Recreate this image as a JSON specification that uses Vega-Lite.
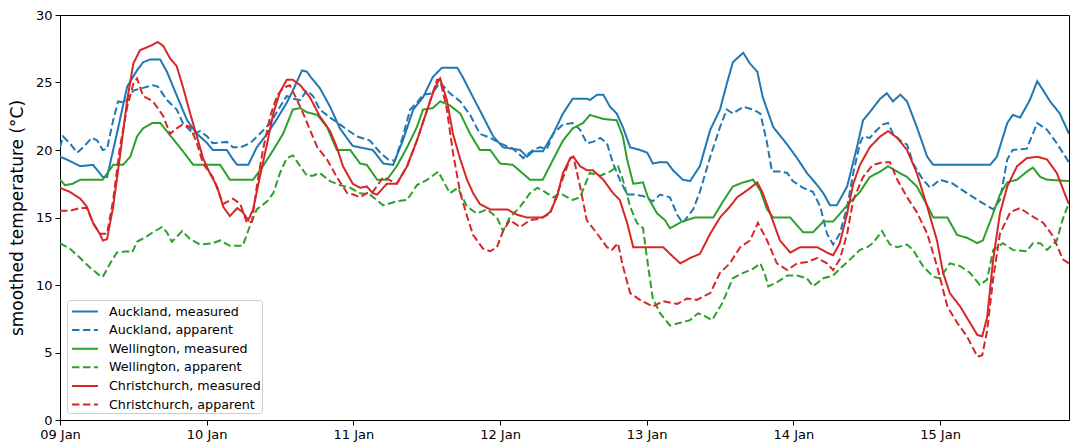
{
"$schema": "https://vega.github.io/schema/vega-lite/v6.json",
"width": 1009, "height": 405,
"autosize": {"type": "none"},
"padding": {"left": 60, "top": 15, "right": 1, "bottom": 23},
"background": "white",
"data": {"values": [
{"series":"Auckland, measured","h":0,"t":19.5},{"series":"Auckland, measured","h":1.1,"t":19.3},{"series":"Auckland, measured","h":3.3,"t":18.8},{"series":"Auckland, measured","h":5.4,"t":18.9},{"series":"Auckland, measured","h":7.0,"t":18.0},{"series":"Auckland, measured","h":7.7,"t":18.0},{"series":"Auckland, measured","h":9.3,"t":21.2},{"series":"Auckland, measured","h":11.0,"t":24.7},{"series":"Auckland, measured","h":12.6,"t":25.9},{"series":"Auckland, measured","h":13.6,"t":26.5},{"series":"Auckland, measured","h":14.7,"t":26.7},{"series":"Auckland, measured","h":16.4,"t":26.7},{"series":"Auckland, measured","h":17.5,"t":25.8},{"series":"Auckland, measured","h":18.5,"t":24.7},{"series":"Auckland, measured","h":19.6,"t":23.5},{"series":"Auckland, measured","h":20.8,"t":22.2},{"series":"Auckland, measured","h":22.4,"t":21.2},{"series":"Auckland, measured","h":24.1,"t":20.5},{"series":"Auckland, measured","h":25.0,"t":20.0},{"series":"Auckland, measured","h":27.3,"t":20.0},{"series":"Auckland, measured","h":28.3,"t":19.3},{"series":"Auckland, measured","h":29.0,"t":18.9},{"series":"Auckland, measured","h":30.8,"t":18.9},{"series":"Auckland, measured","h":32.2,"t":20.2},{"series":"Auckland, measured","h":33.9,"t":21.2},{"series":"Auckland, measured","h":35.5,"t":22.3},{"series":"Auckland, measured","h":37.1,"t":23.5},{"series":"Auckland, measured","h":38.1,"t":24.4},{"series":"Auckland, measured","h":39.6,"t":25.9},{"series":"Auckland, measured","h":40.4,"t":25.8},{"series":"Auckland, measured","h":41.2,"t":25.3},{"series":"Auckland, measured","h":42.5,"t":24.6},{"series":"Auckland, measured","h":44.2,"t":23.2},{"series":"Auckland, measured","h":45.8,"t":21.6},{"series":"Auckland, measured","h":47.9,"t":20.3},{"series":"Auckland, measured","h":51.2,"t":20.0},{"series":"Auckland, measured","h":52.9,"t":19.0},{"series":"Auckland, measured","h":54.5,"t":18.9},{"series":"Auckland, measured","h":56.1,"t":20.7},{"series":"Auckland, measured","h":57.8,"t":23.0},{"series":"Auckland, measured","h":59.4,"t":23.9},{"series":"Auckland, measured","h":61.0,"t":25.4},{"series":"Auckland, measured","h":62.5,"t":26.1},{"series":"Auckland, measured","h":65.0,"t":26.1},{"series":"Auckland, measured","h":65.9,"t":25.4},{"series":"Auckland, measured","h":67.6,"t":23.9},{"series":"Auckland, measured","h":69.2,"t":22.5},{"series":"Auckland, measured","h":70.9,"t":21.0},{"series":"Auckland, measured","h":72.5,"t":20.2},{"series":"Auckland, measured","h":75.3,"t":20.0},{"series":"Auckland, measured","h":76.4,"t":19.5},{"series":"Auckland, measured","h":77.4,"t":19.9},{"series":"Auckland, measured","h":79.0,"t":19.9},{"series":"Auckland, measured","h":80.7,"t":21.2},{"series":"Auckland, measured","h":82.3,"t":22.7},{"series":"Auckland, measured","h":83.9,"t":23.8},{"series":"Auckland, measured","h":86.2,"t":23.8},{"series":"Auckland, measured","h":86.7,"t":23.7},{"series":"Auckland, measured","h":87.9,"t":24.1},{"series":"Auckland, measured","h":88.9,"t":24.1},{"series":"Auckland, measured","h":90.0,"t":23.2},{"series":"Auckland, measured","h":91.1,"t":22.7},{"series":"Auckland, measured","h":92.1,"t":21.7},{"series":"Auckland, measured","h":93.3,"t":20.2},{"series":"Auckland, measured","h":94.9,"t":20.0},{"series":"Auckland, measured","h":96.1,"t":19.8},{"series":"Auckland, measured","h":97.0,"t":19.0},{"series":"Auckland, measured","h":98.2,"t":19.1},{"series":"Auckland, measured","h":99.3,"t":19.1},{"series":"Auckland, measured","h":100.3,"t":18.5},{"series":"Auckland, measured","h":101.9,"t":17.8},{"series":"Auckland, measured","h":103.1,"t":17.7},{"series":"Auckland, measured","h":104.7,"t":18.8},{"series":"Auckland, measured","h":106.4,"t":21.5},{"series":"Auckland, measured","h":108.0,"t":23.0},{"series":"Auckland, measured","h":109.1,"t":24.9},{"series":"Auckland, measured","h":110.1,"t":26.5},{"series":"Auckland, measured","h":111.3,"t":27.0},{"series":"Auckland, measured","h":111.8,"t":27.2},{"series":"Auckland, measured","h":112.9,"t":26.4},{"series":"Auckland, measured","h":114.1,"t":25.8},{"series":"Auckland, measured","h":115.0,"t":23.9},{"series":"Auckland, measured","h":116.7,"t":21.7},{"series":"Auckland, measured","h":119.0,"t":20.4},{"series":"Auckland, measured","h":120.6,"t":19.4},{"series":"Auckland, measured","h":122.2,"t":18.3},{"series":"Auckland, measured","h":123.9,"t":17.4},{"series":"Auckland, measured","h":124.9,"t":16.8},{"series":"Auckland, measured","h":126.0,"t":15.9},{"series":"Auckland, measured","h":127.1,"t":15.9},{"series":"Auckland, measured","h":128.8,"t":17.3},{"series":"Auckland, measured","h":130.4,"t":20.2},{"series":"Auckland, measured","h":131.4,"t":22.2},{"series":"Auckland, measured","h":132.5,"t":22.8},{"series":"Auckland, measured","h":134.2,"t":23.8},{"series":"Auckland, measured","h":135.3,"t":24.2},{"series":"Auckland, measured","h":136.3,"t":23.6},{"series":"Auckland, measured","h":137.5,"t":24.1},{"series":"Auckland, measured","h":138.6,"t":23.6},{"series":"Auckland, measured","h":140.2,"t":21.7},{"series":"Auckland, measured","h":141.9,"t":19.5},{"series":"Auckland, measured","h":142.9,"t":18.9},{"series":"Auckland, measured","h":152.2,"t":18.9},{"series":"Auckland, measured","h":153.3,"t":19.5},{"series":"Auckland, measured","h":155.0,"t":22.0},{"series":"Auckland, measured","h":155.9,"t":22.6},{"series":"Auckland, measured","h":157.1,"t":22.4},{"series":"Auckland, measured","h":158.7,"t":23.7},{"series":"Auckland, measured","h":159.9,"t":25.1},{"series":"Auckland, measured","h":160.9,"t":24.4},{"series":"Auckland, measured","h":162.0,"t":23.6},{"series":"Auckland, measured","h":163.6,"t":22.7},{"series":"Auckland, measured","h":164.8,"t":21.5},{"series":"Auckland, measured","h":165.1,"t":21.2},
{"series":"Auckland, apparent","h":0,"t":20.2},{"series":"Auckland, apparent","h":0.5,"t":21.0},{"series":"Auckland, apparent","h":1.6,"t":20.5},{"series":"Auckland, apparent","h":2.8,"t":19.8},{"series":"Auckland, apparent","h":3.8,"t":20.2},{"series":"Auckland, apparent","h":5.2,"t":20.9},{"series":"Auckland, apparent","h":6.1,"t":20.7},{"series":"Auckland, apparent","h":7.0,"t":20.0},{"series":"Auckland, apparent","h":7.7,"t":20.1},{"series":"Auckland, apparent","h":8.7,"t":22.2},{"series":"Auckland, apparent","h":9.5,"t":23.6},{"series":"Auckland, apparent","h":10.6,"t":23.5},{"series":"Auckland, apparent","h":12.0,"t":24.4},{"series":"Auckland, apparent","h":13.6,"t":24.6},{"series":"Auckland, apparent","h":15.2,"t":24.8},{"series":"Auckland, apparent","h":16.0,"t":24.7},{"series":"Auckland, apparent","h":17.5,"t":23.7},{"series":"Auckland, apparent","h":19.1,"t":23.0},{"series":"Auckland, apparent","h":20.1,"t":22.0},{"series":"Auckland, apparent","h":21.8,"t":21.2},{"series":"Auckland, apparent","h":22.9,"t":21.4},{"series":"Auckland, apparent","h":24.1,"t":21.0},{"series":"Auckland, apparent","h":25.0,"t":20.5},{"series":"Auckland, apparent","h":27.3,"t":20.6},{"series":"Auckland, apparent","h":28.3,"t":20.2},{"series":"Auckland, apparent","h":29.5,"t":20.2},{"series":"Auckland, apparent","h":31.1,"t":20.5},{"series":"Auckland, apparent","h":32.7,"t":21.2},{"series":"Auckland, apparent","h":34.4,"t":22.0},{"series":"Auckland, apparent","h":36.0,"t":23.2},{"series":"Auckland, apparent","h":37.1,"t":24.0},{"series":"Auckland, apparent","h":38.1,"t":23.8},{"series":"Auckland, apparent","h":39.3,"t":23.7},{"series":"Auckland, apparent","h":40.4,"t":24.4},{"series":"Auckland, apparent","h":41.4,"t":24.0},{"series":"Auckland, apparent","h":42.5,"t":23.0},{"series":"Auckland, apparent","h":44.2,"t":22.4},{"series":"Auckland, apparent","h":45.8,"t":21.9},{"series":"Auckland, apparent","h":47.0,"t":21.5},{"series":"Auckland, apparent","h":48.6,"t":21.0},{"series":"Auckland, apparent","h":50.7,"t":20.7},{"series":"Auckland, apparent","h":52.4,"t":19.8},{"series":"Auckland, apparent","h":53.7,"t":19.3},{"series":"Auckland, apparent","h":54.8,"t":19.2},{"series":"Auckland, apparent","h":56.1,"t":21.0},{"series":"Auckland, apparent","h":57.3,"t":23.0},{"series":"Auckland, apparent","h":58.4,"t":23.5},{"series":"Auckland, apparent","h":59.4,"t":24.1},{"series":"Auckland, apparent","h":60.9,"t":24.2},{"series":"Auckland, apparent","h":62.2,"t":25.0},{"series":"Auckland, apparent","h":63.8,"t":24.2},{"series":"Auckland, apparent","h":65.5,"t":23.6},{"series":"Auckland, apparent","h":67.1,"t":22.6},{"series":"Auckland, apparent","h":68.7,"t":21.2},{"series":"Auckland, apparent","h":70.4,"t":20.9},{"series":"Auckland, apparent","h":72.0,"t":20.5},{"series":"Auckland, apparent","h":74.1,"t":20.1},{"series":"Auckland, apparent","h":75.8,"t":19.4},{"series":"Auckland, apparent","h":77.4,"t":20.0},{"series":"Auckland, apparent","h":78.5,"t":20.2},{"series":"Auckland, apparent","h":79.7,"t":20.1},{"series":"Auckland, apparent","h":80.7,"t":21.2},{"series":"Auckland, apparent","h":82.3,"t":21.9},{"series":"Auckland, apparent","h":83.9,"t":22.0},{"series":"Auckland, apparent","h":85.1,"t":21.5},{"series":"Auckland, apparent","h":86.2,"t":20.5},{"series":"Auckland, apparent","h":87.2,"t":20.6},{"series":"Auckland, apparent","h":88.4,"t":20.9},{"series":"Auckland, apparent","h":89.5,"t":20.5},{"series":"Auckland, apparent","h":90.5,"t":19.0},{"series":"Auckland, apparent","h":91.6,"t":17.8},{"series":"Auckland, apparent","h":92.8,"t":16.7},{"series":"Auckland, apparent","h":93.8,"t":16.7},{"series":"Auckland, apparent","h":95.4,"t":16.6},{"series":"Auckland, apparent","h":97.0,"t":16.2},{"series":"Auckland, apparent","h":98.2,"t":16.7},{"series":"Auckland, apparent","h":99.8,"t":16.5},{"series":"Auckland, apparent","h":101.0,"t":15.2},{"series":"Auckland, apparent","h":101.9,"t":14.6},{"series":"Auckland, apparent","h":103.6,"t":15.6},{"series":"Auckland, apparent","h":104.7,"t":16.9},{"series":"Auckland, apparent","h":106.4,"t":19.5},{"series":"Auckland, apparent","h":108.0,"t":21.7},{"series":"Auckland, apparent","h":109.1,"t":23.0},{"series":"Auckland, apparent","h":110.1,"t":22.7},{"series":"Auckland, apparent","h":111.8,"t":23.2},{"series":"Auckland, apparent","h":113.4,"t":23.0},{"series":"Auckland, apparent","h":114.6,"t":22.7},{"series":"Auckland, apparent","h":115.7,"t":20.5},{"series":"Auckland, apparent","h":116.5,"t":18.4},{"series":"Auckland, apparent","h":117.8,"t":18.4},{"series":"Auckland, apparent","h":119.0,"t":18.3},{"series":"Auckland, apparent","h":119.9,"t":17.7},{"series":"Auckland, apparent","h":121.6,"t":17.2},{"series":"Auckland, apparent","h":123.2,"t":16.9},{"series":"Auckland, apparent","h":124.4,"t":15.8},{"series":"Auckland, apparent","h":125.5,"t":13.8},{"series":"Auckland, apparent","h":126.5,"t":13.0},{"series":"Auckland, apparent","h":127.6,"t":13.8},{"series":"Auckland, apparent","h":128.8,"t":15.8},{"series":"Auckland, apparent","h":129.8,"t":18.3},{"series":"Auckland, apparent","h":130.9,"t":20.5},{"series":"Auckland, apparent","h":131.4,"t":21.0},{"series":"Auckland, apparent","h":132.5,"t":20.9},{"series":"Auckland, apparent","h":133.7,"t":21.5},{"series":"Auckland, apparent","h":134.7,"t":21.9},{"series":"Auckland, apparent","h":135.5,"t":22.0},{"series":"Auckland, apparent","h":136.3,"t":21.2},{"series":"Auckland, apparent","h":137.5,"t":20.7},{"series":"Auckland, apparent","h":138.6,"t":20.4},{"series":"Auckland, apparent","h":139.6,"t":19.0},{"series":"Auckland, apparent","h":141.2,"t":17.8},{"series":"Auckland, apparent","h":142.4,"t":17.2},{"series":"Auckland, apparent","h":144.0,"t":17.8},{"series":"Auckland, apparent","h":146.1,"t":17.5},{"series":"Auckland, apparent","h":148.4,"t":16.8},{"series":"Auckland, apparent","h":150.5,"t":16.2},{"series":"Auckland, apparent","h":152.7,"t":15.6},{"series":"Auckland, apparent","h":153.8,"t":16.3},{"series":"Auckland, apparent","h":155.0,"t":19.3},{"series":"Auckland, apparent","h":155.9,"t":20.0},{"series":"Auckland, apparent","h":158.2,"t":20.1},{"series":"Auckland, apparent","h":159.9,"t":22.0},{"series":"Auckland, apparent","h":161.5,"t":21.5},{"series":"Auckland, apparent","h":163.1,"t":20.5},{"series":"Auckland, apparent","h":164.8,"t":19.3},{"series":"Auckland, apparent","h":165.1,"t":19.0},
{"series":"Wellington, measured","h":0,"t":17.8},{"series":"Wellington, measured","h":0.8,"t":17.4},{"series":"Wellington, measured","h":2.1,"t":17.5},{"series":"Wellington, measured","h":3.3,"t":17.8},{"series":"Wellington, measured","h":7.0,"t":17.8},{"series":"Wellington, measured","h":8.7,"t":18.9},{"series":"Wellington, measured","h":10.3,"t":18.9},{"series":"Wellington, measured","h":11.5,"t":19.5},{"series":"Wellington, measured","h":12.6,"t":21.0},{"series":"Wellington, measured","h":13.6,"t":21.6},{"series":"Wellington, measured","h":15.1,"t":22.0},{"series":"Wellington, measured","h":16.4,"t":22.0},{"series":"Wellington, measured","h":18.0,"t":21.1},{"series":"Wellington, measured","h":19.6,"t":20.2},{"series":"Wellington, measured","h":20.8,"t":19.5},{"series":"Wellington, measured","h":21.8,"t":18.9},{"series":"Wellington, measured","h":26.2,"t":18.9},{"series":"Wellington, measured","h":27.8,"t":17.8},{"series":"Wellington, measured","h":31.6,"t":17.8},{"series":"Wellington, measured","h":33.2,"t":18.8},{"series":"Wellington, measured","h":34.9,"t":20.0},{"series":"Wellington, measured","h":36.5,"t":21.2},{"series":"Wellington, measured","h":38.1,"t":23.0},{"series":"Wellington, measured","h":39.3,"t":23.1},{"series":"Wellington, measured","h":40.4,"t":22.8},{"series":"Wellington, measured","h":42.1,"t":22.6},{"series":"Wellington, measured","h":43.7,"t":21.7},{"series":"Wellington, measured","h":45.3,"t":20.0},{"series":"Wellington, measured","h":47.5,"t":20.0},{"series":"Wellington, measured","h":49.1,"t":19.0},{"series":"Wellington, measured","h":50.2,"t":18.9},{"series":"Wellington, measured","h":51.9,"t":17.8},{"series":"Wellington, measured","h":53.5,"t":17.8},{"series":"Wellington, measured","h":55.1,"t":18.8},{"series":"Wellington, measured","h":56.8,"t":20.2},{"series":"Wellington, measured","h":58.4,"t":21.7},{"series":"Wellington, measured","h":59.4,"t":23.0},{"series":"Wellington, measured","h":61.0,"t":23.1},{"series":"Wellington, measured","h":62.2,"t":23.6},{"series":"Wellington, measured","h":63.8,"t":23.3},{"series":"Wellington, measured","h":65.5,"t":22.7},{"series":"Wellington, measured","h":67.1,"t":21.2},{"series":"Wellington, measured","h":68.7,"t":20.0},{"series":"Wellington, measured","h":70.4,"t":20.0},{"series":"Wellington, measured","h":72.0,"t":19.0},{"series":"Wellington, measured","h":74.1,"t":18.9},{"series":"Wellington, measured","h":76.9,"t":17.8},{"series":"Wellington, measured","h":79.0,"t":17.8},{"series":"Wellington, measured","h":80.7,"t":19.3},{"series":"Wellington, measured","h":82.3,"t":20.7},{"series":"Wellington, measured","h":83.9,"t":21.6},{"series":"Wellington, measured","h":85.6,"t":22.0},{"series":"Wellington, measured","h":86.7,"t":22.6},{"series":"Wellington, measured","h":88.9,"t":22.3},{"series":"Wellington, measured","h":91.1,"t":22.2},{"series":"Wellington, measured","h":92.1,"t":21.0},{"series":"Wellington, measured","h":92.8,"t":19.3},{"series":"Wellington, measured","h":93.8,"t":17.5},{"series":"Wellington, measured","h":95.4,"t":17.6},{"series":"Wellington, measured","h":96.2,"t":16.5},{"series":"Wellington, measured","h":97.7,"t":15.3},{"series":"Wellington, measured","h":99.0,"t":14.8},{"series":"Wellington, measured","h":99.8,"t":14.2},{"series":"Wellington, measured","h":101.8,"t":14.7},{"series":"Wellington, measured","h":103.9,"t":15.0},{"series":"Wellington, measured","h":106.9,"t":15.0},{"series":"Wellington, measured","h":108.5,"t":16.2},{"series":"Wellington, measured","h":110.1,"t":17.3},{"series":"Wellington, measured","h":111.8,"t":17.6},{"series":"Wellington, measured","h":113.4,"t":17.8},{"series":"Wellington, measured","h":114.6,"t":17.0},{"series":"Wellington, measured","h":115.7,"t":15.6},{"series":"Wellington, measured","h":116.7,"t":15.0},{"series":"Wellington, measured","h":119.5,"t":15.0},{"series":"Wellington, measured","h":121.6,"t":13.9},{"series":"Wellington, measured","h":123.2,"t":13.9},{"series":"Wellington, measured","h":124.9,"t":14.7},{"series":"Wellington, measured","h":126.5,"t":14.7},{"series":"Wellington, measured","h":128.8,"t":15.9},{"series":"Wellington, measured","h":130.9,"t":16.9},{"series":"Wellington, measured","h":132.5,"t":18.0},{"series":"Wellington, measured","h":134.2,"t":18.4},{"series":"Wellington, measured","h":135.5,"t":18.8},{"series":"Wellington, measured","h":137.0,"t":18.4},{"series":"Wellington, measured","h":138.6,"t":18.0},{"series":"Wellington, measured","h":140.2,"t":17.3},{"series":"Wellington, measured","h":141.9,"t":15.9},{"series":"Wellington, measured","h":142.9,"t":15.0},{"series":"Wellington, measured","h":145.2,"t":15.0},{"series":"Wellington, measured","h":146.8,"t":13.7},{"series":"Wellington, measured","h":148.4,"t":13.5},{"series":"Wellington, measured","h":150.1,"t":13.1},{"series":"Wellington, measured","h":151.0,"t":13.3},{"series":"Wellington, measured","h":152.2,"t":14.7},{"series":"Wellington, measured","h":153.8,"t":16.7},{"series":"Wellington, measured","h":155.0,"t":17.6},{"series":"Wellington, measured","h":156.6,"t":17.8},{"series":"Wellington, measured","h":158.2,"t":18.4},{"series":"Wellington, measured","h":159.2,"t":18.7},{"series":"Wellington, measured","h":160.4,"t":18.0},{"series":"Wellington, measured","h":161.5,"t":17.8},{"series":"Wellington, measured","h":165.1,"t":17.7},
{"series":"Wellington, apparent","h":0,"t":13.1},{"series":"Wellington, apparent","h":1.6,"t":12.7},{"series":"Wellington, apparent","h":3.3,"t":12.0},{"series":"Wellington, apparent","h":4.9,"t":11.3},{"series":"Wellington, apparent","h":6.5,"t":10.7},{"series":"Wellington, apparent","h":7.0,"t":10.6},{"series":"Wellington, apparent","h":8.2,"t":11.6},{"series":"Wellington, apparent","h":9.3,"t":12.4},{"series":"Wellington, apparent","h":11.0,"t":12.5},{"series":"Wellington, apparent","h":11.8,"t":12.4},{"series":"Wellington, apparent","h":12.6,"t":13.2},{"series":"Wellington, apparent","h":14.2,"t":13.6},{"series":"Wellington, apparent","h":15.2,"t":13.9},{"series":"Wellington, apparent","h":16.7,"t":14.3},{"series":"Wellington, apparent","h":17.5,"t":13.9},{"series":"Wellington, apparent","h":18.3,"t":13.2},{"series":"Wellington, apparent","h":20.0,"t":14.0},{"series":"Wellington, apparent","h":21.3,"t":13.4},{"series":"Wellington, apparent","h":22.9,"t":13.0},{"series":"Wellington, apparent","h":25.0,"t":13.1},{"series":"Wellington, apparent","h":26.2,"t":13.3},{"series":"Wellington, apparent","h":27.8,"t":12.9},{"series":"Wellington, apparent","h":29.9,"t":12.9},{"series":"Wellington, apparent","h":31.1,"t":14.4},{"series":"Wellington, apparent","h":32.2,"t":15.6},{"series":"Wellington, apparent","h":33.9,"t":16.2},{"series":"Wellington, apparent","h":34.9,"t":16.8},{"series":"Wellington, apparent","h":36.0,"t":18.3},{"series":"Wellington, apparent","h":37.1,"t":19.4},{"series":"Wellington, apparent","h":38.1,"t":19.6},{"series":"Wellington, apparent","h":39.3,"t":18.8},{"series":"Wellington, apparent","h":40.4,"t":18.1},{"series":"Wellington, apparent","h":41.4,"t":18.1},{"series":"Wellington, apparent","h":42.5,"t":18.3},{"series":"Wellington, apparent","h":44.2,"t":17.7},{"series":"Wellington, apparent","h":45.8,"t":17.4},{"series":"Wellington, apparent","h":47.5,"t":17.2},{"series":"Wellington, apparent","h":49.1,"t":16.8},{"series":"Wellington, apparent","h":50.7,"t":16.7},{"series":"Wellington, apparent","h":52.9,"t":15.9},{"series":"Wellington, apparent","h":55.1,"t":16.2},{"series":"Wellington, apparent","h":56.8,"t":16.3},{"series":"Wellington, apparent","h":58.4,"t":17.4},{"series":"Wellington, apparent","h":60.1,"t":17.8},{"series":"Wellington, apparent","h":61.9,"t":18.4},{"series":"Wellington, apparent","h":63.8,"t":16.8},{"series":"Wellington, apparent","h":65.1,"t":17.2},{"series":"Wellington, apparent","h":66.6,"t":15.8},{"series":"Wellington, apparent","h":68.2,"t":15.3},{"series":"Wellington, apparent","h":69.9,"t":15.6},{"series":"Wellington, apparent","h":71.5,"t":15.0},{"series":"Wellington, apparent","h":72.5,"t":14.0},{"series":"Wellington, apparent","h":73.6,"t":15.0},{"series":"Wellington, apparent","h":75.3,"t":15.8},{"series":"Wellington, apparent","h":76.9,"t":16.8},{"series":"Wellington, apparent","h":78.1,"t":17.2},{"series":"Wellington, apparent","h":79.0,"t":17.0},{"series":"Wellington, apparent","h":80.7,"t":16.5},{"series":"Wellington, apparent","h":81.8,"t":16.8},{"series":"Wellington, apparent","h":83.9,"t":16.3},{"series":"Wellington, apparent","h":85.1,"t":16.5},{"series":"Wellington, apparent","h":86.7,"t":18.3},{"series":"Wellington, apparent","h":88.4,"t":18.1},{"series":"Wellington, apparent","h":90.0,"t":18.4},{"series":"Wellington, apparent","h":91.3,"t":18.8},{"series":"Wellington, apparent","h":92.1,"t":17.8},{"series":"Wellington, apparent","h":93.3,"t":15.8},{"series":"Wellington, apparent","h":94.4,"t":14.6},{"series":"Wellington, apparent","h":95.4,"t":14.2},{"series":"Wellington, apparent","h":96.2,"t":11.5},{"series":"Wellington, apparent","h":97.0,"t":9.0},{"series":"Wellington, apparent","h":98.2,"t":7.9},{"series":"Wellington, apparent","h":99.8,"t":7.0},{"series":"Wellington, apparent","h":101.5,"t":7.2},{"series":"Wellington, apparent","h":103.1,"t":7.4},{"series":"Wellington, apparent","h":104.4,"t":7.9},{"series":"Wellington, apparent","h":105.5,"t":7.7},{"series":"Wellington, apparent","h":106.7,"t":7.4},{"series":"Wellington, apparent","h":108.3,"t":8.6},{"series":"Wellington, apparent","h":110.1,"t":10.5},{"series":"Wellington, apparent","h":111.8,"t":10.9},{"series":"Wellington, apparent","h":113.4,"t":11.2},{"series":"Wellington, apparent","h":114.6,"t":11.6},{"series":"Wellington, apparent","h":115.4,"t":10.7},{"series":"Wellington, apparent","h":115.9,"t":9.9},{"series":"Wellington, apparent","h":117.3,"t":10.2},{"series":"Wellington, apparent","h":119.0,"t":10.7},{"series":"Wellington, apparent","h":120.6,"t":10.7},{"series":"Wellington, apparent","h":122.2,"t":10.5},{"series":"Wellington, apparent","h":123.2,"t":9.9},{"series":"Wellington, apparent","h":124.9,"t":10.5},{"series":"Wellington, apparent","h":126.5,"t":10.7},{"series":"Wellington, apparent","h":127.6,"t":11.2},{"series":"Wellington, apparent","h":129.3,"t":11.9},{"series":"Wellington, apparent","h":130.9,"t":12.6},{"series":"Wellington, apparent","h":132.1,"t":12.8},{"series":"Wellington, apparent","h":133.0,"t":13.1},{"series":"Wellington, apparent","h":134.5,"t":14.0},{"series":"Wellington, apparent","h":135.8,"t":13.0},{"series":"Wellington, apparent","h":137.0,"t":12.8},{"series":"Wellington, apparent","h":138.6,"t":13.0},{"series":"Wellington, apparent","h":139.6,"t":12.6},{"series":"Wellington, apparent","h":141.2,"t":11.4},{"series":"Wellington, apparent","h":142.9,"t":10.6},{"series":"Wellington, apparent","h":144.0,"t":10.5},{"series":"Wellington, apparent","h":145.6,"t":11.6},{"series":"Wellington, apparent","h":147.3,"t":11.4},{"series":"Wellington, apparent","h":148.9,"t":10.9},{"series":"Wellington, apparent","h":150.5,"t":10.0},{"series":"Wellington, apparent","h":151.7,"t":10.4},{"series":"Wellington, apparent","h":152.7,"t":12.6},{"series":"Wellington, apparent","h":154.3,"t":13.1},{"series":"Wellington, apparent","h":155.9,"t":12.6},{"series":"Wellington, apparent","h":158.2,"t":12.5},{"series":"Wellington, apparent","h":159.2,"t":13.1},{"series":"Wellington, apparent","h":160.4,"t":13.1},{"series":"Wellington, apparent","h":161.5,"t":12.6},{"series":"Wellington, apparent","h":163.1,"t":13.3},{"series":"Wellington, apparent","h":164.1,"t":14.9},{"series":"Wellington, apparent","h":165.1,"t":16.1},
{"series":"Christchurch, measured","h":0,"t":17.2},{"series":"Christchurch, measured","h":1.6,"t":16.9},{"series":"Christchurch, measured","h":3.3,"t":16.4},{"series":"Christchurch, measured","h":4.4,"t":15.8},{"series":"Christchurch, measured","h":5.4,"t":14.6},{"series":"Christchurch, measured","h":6.5,"t":13.8},{"series":"Christchurch, measured","h":7.0,"t":13.3},{"series":"Christchurch, measured","h":7.7,"t":13.4},{"series":"Christchurch, measured","h":8.7,"t":15.8},{"series":"Christchurch, measured","h":9.8,"t":19.5},{"series":"Christchurch, measured","h":11.0,"t":23.7},{"series":"Christchurch, measured","h":12.0,"t":26.4},{"series":"Christchurch, measured","h":13.1,"t":27.4},{"series":"Christchurch, measured","h":14.2,"t":27.6},{"series":"Christchurch, measured","h":15.2,"t":27.8},{"series":"Christchurch, measured","h":16.0,"t":28.0},{"series":"Christchurch, measured","h":16.9,"t":27.7},{"series":"Christchurch, measured","h":18.0,"t":26.8},{"series":"Christchurch, measured","h":19.1,"t":26.2},{"series":"Christchurch, measured","h":20.1,"t":24.7},{"series":"Christchurch, measured","h":21.3,"t":22.7},{"series":"Christchurch, measured","h":22.4,"t":21.0},{"series":"Christchurch, measured","h":23.4,"t":19.4},{"series":"Christchurch, measured","h":24.5,"t":18.3},{"series":"Christchurch, measured","h":25.7,"t":17.3},{"series":"Christchurch, measured","h":26.7,"t":15.8},{"series":"Christchurch, measured","h":27.8,"t":15.1},{"series":"Christchurch, measured","h":29.0,"t":15.7},{"series":"Christchurch, measured","h":29.9,"t":15.4},{"series":"Christchurch, measured","h":30.8,"t":14.8},{"series":"Christchurch, measured","h":31.6,"t":15.6},{"series":"Christchurch, measured","h":32.7,"t":18.0},{"series":"Christchurch, measured","h":33.9,"t":20.5},{"series":"Christchurch, measured","h":34.9,"t":22.7},{"series":"Christchurch, measured","h":36.0,"t":24.3},{"series":"Christchurch, measured","h":37.1,"t":25.2},{"series":"Christchurch, measured","h":38.1,"t":25.2},{"series":"Christchurch, measured","h":39.3,"t":24.8},{"series":"Christchurch, measured","h":40.9,"t":23.9},{"series":"Christchurch, measured","h":42.5,"t":22.5},{"series":"Christchurch, measured","h":44.2,"t":21.4},{"series":"Christchurch, measured","h":45.3,"t":20.2},{"series":"Christchurch, measured","h":46.3,"t":18.8},{"series":"Christchurch, measured","h":47.9,"t":17.5},{"series":"Christchurch, measured","h":49.1,"t":17.2},{"series":"Christchurch, measured","h":50.2,"t":17.3},{"series":"Christchurch, measured","h":51.2,"t":16.8},{"series":"Christchurch, measured","h":51.9,"t":16.7},{"series":"Christchurch, measured","h":53.5,"t":17.5},{"series":"Christchurch, measured","h":55.1,"t":17.5},{"series":"Christchurch, measured","h":56.8,"t":18.8},{"series":"Christchurch, measured","h":58.4,"t":20.7},{"series":"Christchurch, measured","h":60.1,"t":23.0},{"series":"Christchurch, measured","h":61.4,"t":24.7},{"series":"Christchurch, measured","h":62.2,"t":25.3},{"series":"Christchurch, measured","h":63.3,"t":23.7},{"series":"Christchurch, measured","h":64.3,"t":21.2},{"series":"Christchurch, measured","h":65.5,"t":19.3},{"series":"Christchurch, measured","h":66.6,"t":17.8},{"series":"Christchurch, measured","h":67.6,"t":16.8},{"series":"Christchurch, measured","h":68.7,"t":16.0},{"series":"Christchurch, measured","h":70.4,"t":15.6},{"series":"Christchurch, measured","h":73.2,"t":15.6},{"series":"Christchurch, measured","h":74.8,"t":15.2},{"series":"Christchurch, measured","h":76.4,"t":15.0},{"series":"Christchurch, measured","h":79.0,"t":15.0},{"series":"Christchurch, measured","h":80.2,"t":15.4},{"series":"Christchurch, measured","h":81.3,"t":16.5},{"series":"Christchurch, measured","h":82.3,"t":18.3},{"series":"Christchurch, measured","h":83.5,"t":19.4},{"series":"Christchurch, measured","h":84.0,"t":19.5},{"series":"Christchurch, measured","h":85.1,"t":18.8},{"series":"Christchurch, measured","h":86.2,"t":18.5},{"series":"Christchurch, measured","h":87.2,"t":18.5},{"series":"Christchurch, measured","h":88.9,"t":17.8},{"series":"Christchurch, measured","h":90.5,"t":16.8},{"series":"Christchurch, measured","h":91.6,"t":16.3},{"series":"Christchurch, measured","h":92.8,"t":14.6},{"series":"Christchurch, measured","h":93.8,"t":12.8},{"series":"Christchurch, measured","h":96.1,"t":12.8},{"series":"Christchurch, measured","h":98.7,"t":12.8},{"series":"Christchurch, measured","h":100.3,"t":12.1},{"series":"Christchurch, measured","h":101.5,"t":11.6},{"series":"Christchurch, measured","h":103.1,"t":12.0},{"series":"Christchurch, measured","h":104.7,"t":12.3},{"series":"Christchurch, measured","h":106.4,"t":13.8},{"series":"Christchurch, measured","h":108.0,"t":15.0},{"series":"Christchurch, measured","h":109.6,"t":15.8},{"series":"Christchurch, measured","h":110.8,"t":16.5},{"series":"Christchurch, measured","h":112.4,"t":17.0},{"series":"Christchurch, measured","h":114.1,"t":17.6},{"series":"Christchurch, measured","h":115.0,"t":16.8},{"series":"Christchurch, measured","h":116.2,"t":15.3},{"series":"Christchurch, measured","h":117.8,"t":13.3},{"series":"Christchurch, measured","h":119.5,"t":12.4},{"series":"Christchurch, measured","h":121.1,"t":12.8},{"series":"Christchurch, measured","h":123.9,"t":12.8},{"series":"Christchurch, measured","h":125.5,"t":12.4},{"series":"Christchurch, measured","h":126.5,"t":12.2},{"series":"Christchurch, measured","h":127.6,"t":13.1},{"series":"Christchurch, measured","h":128.8,"t":15.3},{"series":"Christchurch, measured","h":129.8,"t":17.5},{"series":"Christchurch, measured","h":130.9,"t":18.9},{"series":"Christchurch, measured","h":132.5,"t":20.2},{"series":"Christchurch, measured","h":134.2,"t":21.0},{"series":"Christchurch, measured","h":135.5,"t":21.4},{"series":"Christchurch, measured","h":137.0,"t":20.9},{"series":"Christchurch, measured","h":138.6,"t":20.0},{"series":"Christchurch, measured","h":140.2,"t":18.3},{"series":"Christchurch, measured","h":141.9,"t":15.8},{"series":"Christchurch, measured","h":143.5,"t":13.3},{"series":"Christchurch, measured","h":144.5,"t":10.9},{"series":"Christchurch, measured","h":145.6,"t":9.4},{"series":"Christchurch, measured","h":147.3,"t":8.4},{"series":"Christchurch, measured","h":148.9,"t":7.2},{"series":"Christchurch, measured","h":150.1,"t":6.3},{"series":"Christchurch, measured","h":150.9,"t":6.2},{"series":"Christchurch, measured","h":151.7,"t":7.6},{"series":"Christchurch, measured","h":152.7,"t":11.9},{"series":"Christchurch, measured","h":153.8,"t":15.3},{"series":"Christchurch, measured","h":155.0,"t":17.3},{"series":"Christchurch, measured","h":156.6,"t":18.8},{"series":"Christchurch, measured","h":158.2,"t":19.4},{"series":"Christchurch, measured","h":159.9,"t":19.5},{"series":"Christchurch, measured","h":161.5,"t":19.3},{"series":"Christchurch, measured","h":163.1,"t":18.3},{"series":"Christchurch, measured","h":164.8,"t":16.3},{"series":"Christchurch, measured","h":165.1,"t":16.0},
{"series":"Christchurch, apparent","h":0,"t":15.5},{"series":"Christchurch, apparent","h":1.6,"t":15.5},{"series":"Christchurch, apparent","h":3.3,"t":15.7},{"series":"Christchurch, apparent","h":4.4,"t":15.7},{"series":"Christchurch, apparent","h":5.4,"t":14.6},{"series":"Christchurch, apparent","h":6.5,"t":13.8},{"series":"Christchurch, apparent","h":7.7,"t":13.8},{"series":"Christchurch, apparent","h":8.7,"t":16.3},{"series":"Christchurch, apparent","h":9.8,"t":20.2},{"series":"Christchurch, apparent","h":11.0,"t":23.2},{"series":"Christchurch, apparent","h":12.0,"t":24.9},{"series":"Christchurch, apparent","h":12.6,"t":25.3},{"series":"Christchurch, apparent","h":13.6,"t":24.0},{"series":"Christchurch, apparent","h":15.2,"t":23.6},{"series":"Christchurch, apparent","h":16.0,"t":23.1},{"series":"Christchurch, apparent","h":16.9,"t":22.5},{"series":"Christchurch, apparent","h":18.0,"t":21.2},{"series":"Christchurch, apparent","h":19.1,"t":21.6},{"series":"Christchurch, apparent","h":20.1,"t":21.9},{"series":"Christchurch, apparent","h":21.3,"t":21.7},{"series":"Christchurch, apparent","h":22.4,"t":20.5},{"series":"Christchurch, apparent","h":23.4,"t":19.0},{"series":"Christchurch, apparent","h":25.0,"t":18.0},{"series":"Christchurch, apparent","h":26.7,"t":16.0},{"series":"Christchurch, apparent","h":28.3,"t":16.4},{"series":"Christchurch, apparent","h":29.5,"t":16.0},{"series":"Christchurch, apparent","h":30.6,"t":14.6},{"series":"Christchurch, apparent","h":31.4,"t":14.7},{"series":"Christchurch, apparent","h":32.2,"t":17.3},{"series":"Christchurch, apparent","h":33.2,"t":20.0},{"series":"Christchurch, apparent","h":34.4,"t":22.5},{"series":"Christchurch, apparent","h":35.5,"t":24.0},{"series":"Christchurch, apparent","h":36.5,"t":24.6},{"series":"Christchurch, apparent","h":37.6,"t":24.8},{"series":"Christchurch, apparent","h":38.8,"t":23.7},{"series":"Christchurch, apparent","h":39.8,"t":22.7},{"series":"Christchurch, apparent","h":40.9,"t":21.5},{"series":"Christchurch, apparent","h":42.1,"t":20.2},{"series":"Christchurch, apparent","h":43.7,"t":19.3},{"series":"Christchurch, apparent","h":45.3,"t":18.0},{"series":"Christchurch, apparent","h":47.0,"t":16.8},{"series":"Christchurch, apparent","h":48.0,"t":16.7},{"series":"Christchurch, apparent","h":49.1,"t":16.5},{"series":"Christchurch, apparent","h":50.2,"t":16.8},{"series":"Christchurch, apparent","h":51.2,"t":16.9},{"series":"Christchurch, apparent","h":52.9,"t":18.0},{"series":"Christchurch, apparent","h":55.1,"t":17.5},{"series":"Christchurch, apparent","h":56.8,"t":18.8},{"series":"Christchurch, apparent","h":58.4,"t":20.7},{"series":"Christchurch, apparent","h":60.1,"t":23.0},{"series":"Christchurch, apparent","h":61.7,"t":25.2},{"series":"Christchurch, apparent","h":62.2,"t":25.2},{"series":"Christchurch, apparent","h":63.3,"t":23.0},{"series":"Christchurch, apparent","h":64.3,"t":19.8},{"series":"Christchurch, apparent","h":65.5,"t":16.8},{"series":"Christchurch, apparent","h":66.6,"t":15.1},{"series":"Christchurch, apparent","h":67.6,"t":13.7},{"series":"Christchurch, apparent","h":69.2,"t":12.7},{"series":"Christchurch, apparent","h":70.4,"t":12.5},{"series":"Christchurch, apparent","h":71.5,"t":12.8},{"series":"Christchurch, apparent","h":72.5,"t":14.0},{"series":"Christchurch, apparent","h":73.6,"t":14.8},{"series":"Christchurch, apparent","h":75.3,"t":14.3},{"series":"Christchurch, apparent","h":76.9,"t":14.8},{"series":"Christchurch, apparent","h":78.5,"t":14.9},{"series":"Christchurch, apparent","h":80.2,"t":15.3},{"series":"Christchurch, apparent","h":81.8,"t":17.3},{"series":"Christchurch, apparent","h":83.5,"t":19.4},{"series":"Christchurch, apparent","h":84.0,"t":19.5},{"series":"Christchurch, apparent","h":85.1,"t":17.3},{"series":"Christchurch, apparent","h":86.2,"t":14.8},{"series":"Christchurch, apparent","h":87.9,"t":13.8},{"series":"Christchurch, apparent","h":89.5,"t":12.8},{"series":"Christchurch, apparent","h":90.3,"t":12.6},{"series":"Christchurch, apparent","h":91.3,"t":13.1},{"series":"Christchurch, apparent","h":92.1,"t":11.4},{"series":"Christchurch, apparent","h":93.3,"t":9.4},{"series":"Christchurch, apparent","h":94.9,"t":8.9},{"series":"Christchurch, apparent","h":97.0,"t":8.4},{"series":"Christchurch, apparent","h":98.7,"t":8.8},{"series":"Christchurch, apparent","h":101.0,"t":8.6},{"series":"Christchurch, apparent","h":102.6,"t":9.0},{"series":"Christchurch, apparent","h":104.2,"t":8.9},{"series":"Christchurch, apparent","h":106.4,"t":9.4},{"series":"Christchurch, apparent","h":108.0,"t":10.9},{"series":"Christchurch, apparent","h":109.6,"t":11.6},{"series":"Christchurch, apparent","h":111.3,"t":12.8},{"series":"Christchurch, apparent","h":112.9,"t":13.3},{"series":"Christchurch, apparent","h":114.2,"t":14.6},{"series":"Christchurch, apparent","h":115.7,"t":13.3},{"series":"Christchurch, apparent","h":117.3,"t":11.6},{"series":"Christchurch, apparent","h":119.0,"t":11.1},{"series":"Christchurch, apparent","h":120.6,"t":11.6},{"series":"Christchurch, apparent","h":122.2,"t":11.7},{"series":"Christchurch, apparent","h":123.9,"t":12.0},{"series":"Christchurch, apparent","h":125.5,"t":11.6},{"series":"Christchurch, apparent","h":126.5,"t":11.1},{"series":"Christchurch, apparent","h":127.6,"t":11.9},{"series":"Christchurch, apparent","h":128.8,"t":13.8},{"series":"Christchurch, apparent","h":129.8,"t":16.3},{"series":"Christchurch, apparent","h":131.4,"t":18.0},{"series":"Christchurch, apparent","h":133.0,"t":18.9},{"series":"Christchurch, apparent","h":134.7,"t":19.1},{"series":"Christchurch, apparent","h":135.8,"t":19.1},{"series":"Christchurch, apparent","h":137.0,"t":17.8},{"series":"Christchurch, apparent","h":138.6,"t":16.5},{"series":"Christchurch, apparent","h":140.2,"t":15.4},{"series":"Christchurch, apparent","h":141.9,"t":13.8},{"series":"Christchurch, apparent","h":143.5,"t":11.4},{"series":"Christchurch, apparent","h":145.2,"t":8.4},{"series":"Christchurch, apparent","h":146.8,"t":7.2},{"series":"Christchurch, apparent","h":148.4,"t":6.2},{"series":"Christchurch, apparent","h":150.1,"t":4.7},{"series":"Christchurch, apparent","h":150.9,"t":4.8},{"series":"Christchurch, apparent","h":151.7,"t":6.6},{"series":"Christchurch, apparent","h":152.7,"t":10.5},{"series":"Christchurch, apparent","h":153.8,"t":13.8},{"series":"Christchurch, apparent","h":155.5,"t":15.4},{"series":"Christchurch, apparent","h":157.1,"t":15.7},{"series":"Christchurch, apparent","h":158.7,"t":15.2},{"series":"Christchurch, apparent","h":160.9,"t":14.6},{"series":"Christchurch, apparent","h":162.5,"t":13.6},{"series":"Christchurch, apparent","h":164.1,"t":11.9},{"series":"Christchurch, apparent","h":165.1,"t":11.6}
]},
"mark": {"type": "line", "strokeWidth": 2, "clip": true},
"encoding": {
 "x": {"field": "h", "type": "quantitative", "title": null,
   "scale": {"domain": [0, 165.1], "nice": false, "zero": false},
   "axis": {"values": [0, 24, 48, 72, 96, 120, 144], "labelFlush": false,
     "labelExpr": "timeFormat(datetime(2024, 0, 9 + datum.value / 24), '%d %b')"}},
 "y": {"field": "t", "type": "quantitative", "title": "smoothed temperature (°C)",
   "scale": {"domain": [0, 30], "nice": false},
   "axis": {"values": [0, 5, 10, 15, 20, 25, 30], "labelFlush": false, "titlePadding": 9}},
 "color": {"field": "series", "type": "nominal",
   "scale": {"domain": ["Auckland, measured", "Auckland, apparent", "Wellington, measured", "Wellington, apparent", "Christchurch, measured", "Christchurch, apparent"],
     "range": ["#1f77b4", "#1f77b4", "#2ca02c", "#2ca02c", "#d62728", "#d62728"]},
   "legend": {"title": null, "orient": "bottom-left", "offset": 7, "fillColor": "white", "strokeColor": "#cccccc", "cornerRadius": 3, "padding": 1, "rowPadding": 0.6, "labelFontSize": 12.7, "labelOffset": 20, "symbolType": "M-0.69,0H2.05", "symbolStrokeWidth": 2, "symbolSize": 361, "labelColor": "black"}},
 "strokeDash": {"field": "series", "type": "nominal",
   "scale": {"domain": ["Auckland, measured", "Auckland, apparent", "Wellington, measured", "Wellington, apparent", "Christchurch, measured", "Christchurch, apparent"],
     "range": [[1, 0], [7.5, 3.5], [1, 0], [7.5, 3.5], [1, 0], [7.5, 3.5]]}}
},
"config": {
 "font": "DejaVu Sans",
 "view": {"stroke": "black", "strokeWidth": 1},
 "axis": {"domainColor": "black", "tickColor": "black", "labelColor": "black", "titleColor": "black", "labelFontSize": 13, "tickSize": 5, "labelPadding": 3, "grid": false, "domainWidth": 1, "tickWidth": 1, "titleFontWeight": "normal", "titleFontSize": 17},
 "legend": {"labelFont": "DejaVu Sans"}
}
}
